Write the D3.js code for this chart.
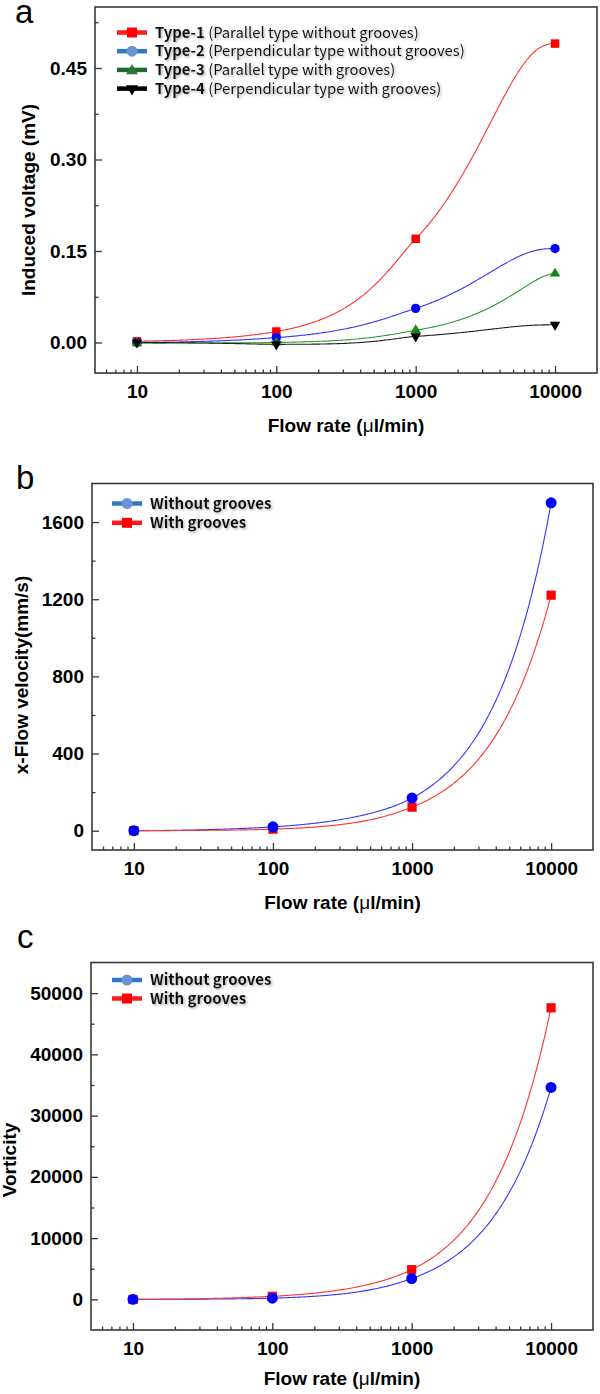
<!DOCTYPE html>
<html>
<head>
<meta charset="utf-8">
<script src="https://cdn.jsdelivr.net/npm/d3@7"></script>
<style>
  html, body { margin: 0; padding: 0; background: #ffffff; }
  svg { display: block; }
</style>
</head>
<body>
<svg id="chart" width="600" height="1394"></svg>
<script>
// ---------------- data ----------------
const flowRates = [10, 100, 1000, 10000];
const flowDomain = [5, 20000];
const xTickValues = [10, 100, 1000, 10000];
const xTickLabels = ["10", "100", "1000", "10000"];
const xMinorTicks = [6, 7, 8, 9, 20, 30, 40, 50, 60, 70, 80, 90,
  200, 300, 400, 500, 600, 700, 800, 900, 2000, 3000, 4000, 5000, 6000, 7000, 8000, 9000];

// panel a : induced voltage (mV)
const voltageType1 = [0.002, 0.018, 0.170, 0.490];
const voltageType2 = [0.000, 0.008, 0.056, 0.154];
const voltageType3 = [-0.001, 0.000, 0.020, 0.113];
const voltageType4 = [0.000, -0.003, 0.010, 0.029];
const voltageTicks = [0, 0.15, 0.30, 0.45];
const voltageTickLabels = ["0.00", "0.15", "0.30", "0.45"];
const voltageMinorTicks = [0.075, 0.225, 0.375, 0.525];
const voltageLegendBold = ["Type-1", "Type-2", "Type-3", "Type-4"];
const voltageLegendText = ["(Parallel type without grooves)", "(Perpendicular type without grooves)",
  "(Parallel type with grooves)", "(Perpendicular type with grooves)"];

// panel b : x-flow velocity (mm/s)
const velocityWithout = [0, 20, 169, 1700];
const velocityWith = [0, 8, 122, 1221];
const velocityTicks = [0, 400, 800, 1200, 1600];
const velocityTickLabels = ["0", "400", "800", "1200", "1600"];
const velocityMinorTicks = [200, 600, 1000, 1400];

// panel c : vorticity
const vorticityWithout = [0, 200, 3400, 34600];
const vorticityWith = [0, 500, 4850, 47600];
const vorticityTicks = [0, 10000, 20000, 30000, 40000, 50000];
const vorticityTickLabels = ["0", "10000", "20000", "30000", "40000", "50000"];
const vorticityMinorTicks = [5000, 15000, 25000, 35000, 45000];

const groovesLegend = ["Without grooves", "With grooves"];

// ---------------- helpers ----------------
const svg = d3.select("#chart");
const defs = svg.append("defs");
defs.append("filter").attr("id", "shadow").attr("x", "-10%").attr("y", "-30%").attr("width", "130%").attr("height", "180%")
  .append("feDropShadow").attr("dx", 1.3).attr("dy", 1.3).attr("stdDeviation", 0.8)
  .attr("flood-color", "#777").attr("flood-opacity", 0.6);

const AXIS_FONT = "'Liberation Sans', Arial, sans-serif";
const LEGEND_FONT = "'Noto Sans CJK KR', 'Noto Sans', sans-serif";
const FRAME = "#383838";

const symbolFor = {
  square: d3.symbolSquare,
  circle: d3.symbolCircle,
  up: d3.symbolTriangle,
  down: d3.symbolTriangle
};

function markerPath(kind, size) {
  return d3.symbol().type(symbolFor[kind]).size(size)();
}

// smooth cubic (Hermite) curve through the measured points, in linear flow-rate space
function smoothCurve(xs, ys) {
  const n = xs.length, h = [], s = [], m = [];
  for (let i = 0; i < n - 1; i++) { h[i] = xs[i + 1] - xs[i]; s[i] = (ys[i + 1] - ys[i]) / h[i]; }
  for (let i = 1; i < n - 1; i++) {
    if (s[i - 1] * s[i] <= 0) { m[i] = 0; continue; }
    let t = (s[i - 1] + s[i]) / 2;
    const lim = 3 * Math.min(Math.abs(s[i - 1]), Math.abs(s[i]));
    if (Math.abs(t) > lim) t = Math.sign(t) * lim;
    m[i] = t;
  }
  const endSlope = (d0, d1, h0, h1) => {
    let t = d0 + (d0 - d1) * h0 / (h0 + h1);
    if (t * d0 <= 0) t = 0;
    return t;
  };
  m[0] = endSlope(s[0], s[1], h[0], h[1]);
  m[n - 1] = endSlope(s[n - 2], s[n - 3], h[n - 2], h[n - 3]);
  return x => {
    let i = 0;
    while (i < n - 2 && x > xs[i + 1]) i++;
    const t = (x - xs[i]) / h[i], t2 = t * t, t3 = t2 * t;
    return (2 * t3 - 3 * t2 + 1) * ys[i] + (t3 - 2 * t2 + t) * h[i] * m[i]
      + (-2 * t3 + 3 * t2) * ys[i + 1] + (t3 - t2) * h[i] * m[i + 1];
  };
}

function drawPanel(cfg) {
  const g = svg.append("g");
  const x = d3.scaleLog().domain(flowDomain).range([cfg.left, cfg.right]);
  const y = d3.scaleLinear().domain(cfg.yDomain).range([cfg.bottom, cfg.top]);

  const xa = g.append("g").attr("transform", `translate(0,${cfg.bottom})`)
    .call(d3.axisBottom(x).tickValues(xTickValues).tickFormat((d, i) => xTickLabels[i])
      .tickSizeInner(-7).tickSizeOuter(0).tickPadding(12));
  xa.select(".domain").remove();
  const xm = g.append("g").attr("transform", `translate(0,${cfg.bottom})`)
    .call(d3.axisBottom(x).tickValues(xMinorTicks).tickFormat("").tickSizeInner(-3.5).tickSizeOuter(0));
  xm.select(".domain").remove();

  const ya = g.append("g").attr("transform", `translate(${cfg.left},0)`)
    .call(d3.axisLeft(y).tickValues(cfg.yTicks).tickFormat((d, i) => cfg.yTickLabels[i])
      .tickSizeInner(-7).tickSizeOuter(0).tickPadding(8));
  ya.select(".domain").remove();
  const ym = g.append("g").attr("transform", `translate(${cfg.left},0)`)
    .call(d3.axisLeft(y).tickValues(cfg.yMinor).tickFormat("").tickSizeInner(-3.5).tickSizeOuter(0));
  ym.select(".domain").remove();

  [xa, xm, ya, ym].forEach(ax => {
    ax.attr("font-family", AXIS_FONT).attr("font-size", 19).attr("font-weight", "bold");
    ax.selectAll("line").attr("stroke", FRAME).attr("stroke-width", 1.3);
    ax.selectAll("text").attr("fill", "#000");
  });

  g.append("rect").attr("x", cfg.left).attr("y", cfg.top)
    .attr("width", cfg.right - cfg.left).attr("height", cfg.bottom - cfg.top)
    .attr("fill", "none").attr("stroke", FRAME).attr("stroke-width", 1.6);

  // curves
  const f0 = flowRates[0], f1 = flowRates[flowRates.length - 1];
  const line = d3.line().x(p => x(p[0])).y(p => y(p[1]));
  cfg.series.forEach(s => {
    const curve = smoothCurve(flowRates, s.values);
    const pts = d3.range(0, 301).map(k => { const f = f0 * Math.pow(f1 / f0, k / 300); return [f, curve(f)]; });
    g.append("path").attr("d", line(pts)).attr("fill", "none")
      .attr("stroke", s.lineColor).attr("stroke-width", 1.1);
  });
  // markers
  cfg.markerOrder.forEach(idx => {
    const s = cfg.series[idx];
    flowRates.forEach((f, i) => {
      g.append("path").attr("d", markerPath(s.marker, s.size))
        .attr("transform", `translate(${x(f)},${y(s.values[i])})${s.marker === "down" ? " rotate(180)" : ""}`)
        .attr("fill", s.color);
    });
  });

  // legend
  const lg = g.append("g");
  cfg.legend.forEach((L, i) => {
    const cy = cfg.legendY + i * cfg.legendDy;
    lg.append("line").attr("x1", cfg.legendX).attr("x2", cfg.legendX + 30).attr("y1", cy).attr("y2", cy)
      .attr("stroke", L.lineColor).attr("stroke-width", 4.5);
    lg.append("path").attr("d", markerPath(L.marker, L.size))
      .attr("transform", `translate(${cfg.legendX + 15},${cy + (L.marker === "up" ? 1 : 0)})${L.marker === "down" ? " rotate(180)" : ""}`)
      .attr("fill", L.color);
    const t = lg.append("text").attr("x", cfg.legendX + 38).attr("y", cy + 5)
      .attr("font-family", LEGEND_FONT).attr("font-size", cfg.legendFont).attr("fill", "#111")
      .attr("filter", "url(#shadow)");
    t.append("tspan").attr("font-weight", "bold").text(L.bold);
    if (L.rest) t.append("tspan").attr("font-weight", "normal").text(" " + L.rest);
  });

  // axis titles
  const xt = g.append("text").attr("x", (cfg.left + cfg.right) / 2).attr("y", cfg.xTitleY)
    .attr("text-anchor", "middle").attr("font-family", AXIS_FONT).attr("font-size", 19).attr("font-weight", "bold");
  xt.append("tspan").text("Flow rate (");
  xt.append("tspan").attr("font-weight", "normal").text("\u03bc");
  xt.append("tspan").text("l/min)");

  g.append("text").attr("transform", `translate(${cfg.yTitleX},${cfg.yTitleY}) rotate(-90)`)
    .attr("text-anchor", "middle").attr("font-family", AXIS_FONT).attr("font-size", 19).attr("font-weight", "bold")
    .text(cfg.yTitle);

  g.append("text").attr("x", cfg.letterX).attr("y", cfg.letterY)
    .attr("font-family", AXIS_FONT).attr("font-size", 33).attr("fill", "#000").text(cfg.letter);
}

// ---------------- panels ----------------
drawPanel({
  left: 95, right: 597, top: 7, bottom: 373,
  yDomain: [-0.05, 0.55], yTicks: voltageTicks, yTickLabels: voltageTickLabels, yMinor: voltageMinorTicks,
  series: [
    { values: voltageType1, color: "#ff0000", lineColor: "#ff3333", marker: "square", size: 72 },
    { values: voltageType2, color: "#0000ff", lineColor: "#3535ff", marker: "circle", size: 68 },
    { values: voltageType3, color: "#118811", lineColor: "#2e9a2e", marker: "up", size: 48 },
    { values: voltageType4, color: "#000000", lineColor: "#222222", marker: "down", size: 48 }
  ],
  markerOrder: [0, 1, 2, 3],
  legendX: 117, legendY: 32.5, legendDy: 18.7, legendFont: 14.8,
  legend: [
    { bold: voltageLegendBold[0], rest: voltageLegendText[0], lineColor: "#ff1a1a", color: "#ff0000", marker: "square", size: 100 },
    { bold: voltageLegendBold[1], rest: voltageLegendText[1], lineColor: "#2f78c8", color: "#6b93d4", marker: "circle", size: 95 },
    { bold: voltageLegendBold[2], rest: voltageLegendText[2], lineColor: "#1f6b34", color: "#2a7a36", marker: "up", size: 62 },
    { bold: voltageLegendBold[3], rest: voltageLegendText[3], lineColor: "#000000", color: "#000000", marker: "down", size: 62 }
  ],
  xTitleY: 432, yTitle: "Induced voltage (mV)", yTitleX: 35, yTitleY: 200,
  letter: "a", letterX: 15, letterY: 23
});

drawPanel({
  left: 92, right: 593, top: 483.5, bottom: 850,
  yDomain: [-100, 1800], yTicks: velocityTicks, yTickLabels: velocityTickLabels, yMinor: velocityMinorTicks,
  series: [
    { values: velocityWithout, color: "#0000ff", lineColor: "#3535ff", marker: "circle", size: 95 },
    { values: velocityWith, color: "#ff0000", lineColor: "#ff3333", marker: "square", size: 85 }
  ],
  markerOrder: [1, 0],
  legendX: 112, legendY: 503.5, legendDy: 19.3, legendFont: 15,
  legend: [
    { bold: groovesLegend[0], lineColor: "#2f78c8", color: "#6b93d4", marker: "circle", size: 95 },
    { bold: groovesLegend[1], lineColor: "#ff1a1a", color: "#ff0000", marker: "square", size: 100 }
  ],
  xTitleY: 909, yTitle: "x-Flow velocity(mm/s)", yTitleX: 28, yTitleY: 675,
  letter: "b", letterX: 16, letterY: 489
});

drawPanel({
  left: 91, right: 593, top: 962.5, bottom: 1330,
  yDomain: [-5000, 55000], yTicks: vorticityTicks, yTickLabels: vorticityTickLabels, yMinor: vorticityMinorTicks,
  series: [
    { values: vorticityWithout, color: "#0000ff", lineColor: "#3535ff", marker: "circle", size: 95 },
    { values: vorticityWith, color: "#ff0000", lineColor: "#ff3333", marker: "square", size: 85 }
  ],
  markerOrder: [1, 0],
  legendX: 112, legendY: 980, legendDy: 18.5, legendFont: 15,
  legend: [
    { bold: groovesLegend[0], lineColor: "#2f78c8", color: "#6b93d4", marker: "circle", size: 95 },
    { bold: groovesLegend[1], lineColor: "#ff1a1a", color: "#ff0000", marker: "square", size: 100 }
  ],
  xTitleY: 1385, yTitle: "Vorticity", yTitleX: 16, yTitleY: 1160,
  letter: "c", letterX: 17, letterY: 948
});
</script>
</body>
</html>
